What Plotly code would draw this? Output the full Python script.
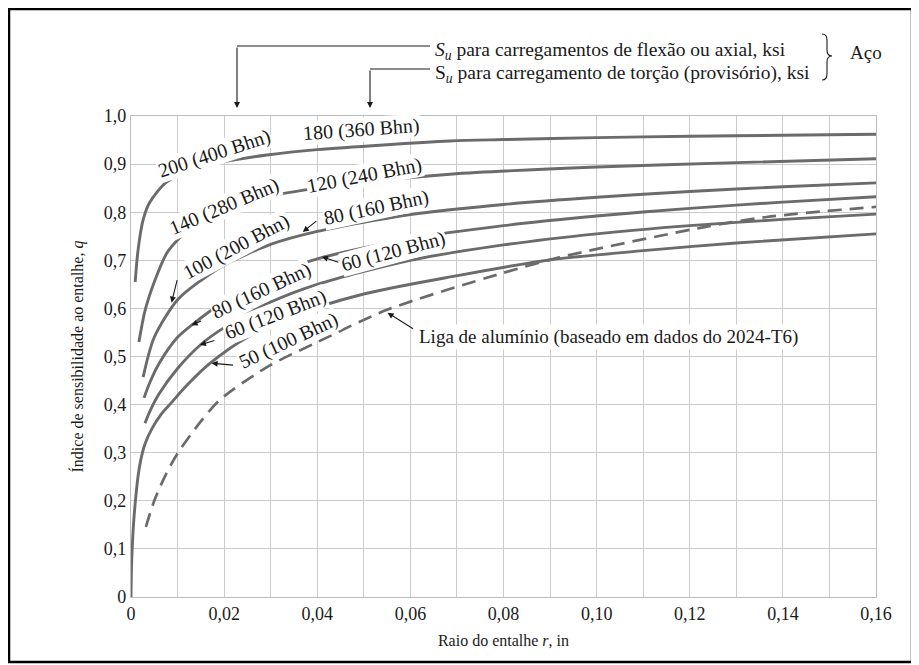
import plotly.graph_objects as go

# ---------------- data ----------------
x_200 = [0.0009, 0.0015, 0.0026, 0.004, 0.0077, 0.0148, 0.02, 0.0292, 0.04, 0.0685, 0.08, 0.10, 0.12, 0.14, 0.16]
q_200 = [0.655, 0.72, 0.784, 0.82, 0.863, 0.894, 0.905, 0.919, 0.93, 0.948, 0.951, 0.955, 0.958, 0.960, 0.962]

x_140 = [0.0017, 0.003, 0.005, 0.0077, 0.01, 0.0148, 0.02, 0.0292, 0.04, 0.0507, 0.0685, 0.10, 0.13, 0.16]
q_140 = [0.53, 0.595, 0.655, 0.715, 0.742, 0.784, 0.806, 0.832, 0.85, 0.863, 0.879, 0.894, 0.903, 0.911]

x_100 = [0.0026, 0.005, 0.01, 0.015, 0.02, 0.03, 0.04, 0.06, 0.08, 0.10, 0.12, 0.14, 0.16]
q_100 = [0.457, 0.54, 0.618, 0.658, 0.69, 0.733, 0.76, 0.795, 0.816, 0.831, 0.843, 0.853, 0.861]

x_80 = [0.0028, 0.004, 0.006, 0.01, 0.015, 0.02, 0.03, 0.04, 0.06, 0.08, 0.10, 0.12, 0.14, 0.16]
q_80 = [0.414, 0.445, 0.485, 0.54, 0.58, 0.615, 0.668, 0.703, 0.745, 0.772, 0.792, 0.808, 0.821, 0.832]

x_60 = [0.003, 0.004, 0.006, 0.01, 0.015, 0.02, 0.03, 0.04, 0.06, 0.08, 0.10, 0.12, 0.14, 0.16]
q_60 = [0.361, 0.385, 0.422, 0.475, 0.525, 0.56, 0.613, 0.65, 0.70, 0.732, 0.755, 0.772, 0.785, 0.796]

x_50 = [0, 0.0001, 0.0003, 0.0006, 0.001, 0.0015, 0.0021, 0.003, 0.0045, 0.0065, 0.0085, 0.012, 0.017, 0.025, 0.035, 0.05, 0.07, 0.09, 0.11, 0.13, 0.16]
q_50 = [0, 0.06, 0.11, 0.16, 0.205, 0.25, 0.285, 0.318, 0.35, 0.38, 0.402, 0.44, 0.486, 0.54, 0.585, 0.63, 0.668, 0.701, 0.72, 0.736, 0.755]

x_al = [0.0032, 0.005, 0.0075, 0.0101, 0.015, 0.0191, 0.0292, 0.04, 0.055, 0.0793, 0.092, 0.122, 0.1365, 0.16]
q_al = [0.146, 0.2, 0.255, 0.30, 0.365, 0.41, 0.478, 0.53, 0.597, 0.672, 0.706, 0.767, 0.79, 0.811]

x_tickvals = [round(i * 0.01, 2) for i in range(17)]
x_ticktext = ["0", "", "0,02", "", "0,04", "", "0,06", "", "0,08", "", "0,10", "", "0,12", "", "0,14", "", "0,16"]
y_tickvals = [round(i * 0.1, 1) for i in range(11)]
y_ticktext = ["0", "0,1", "0,2", "0,3", "0,4", "0,5", "0,6", "0,7", "0,8", "0,9", "1,0"]

# ---------------- layout geometry (page body has an 8px margin) ----------------
OFF = 8
W, H = 919 - OFF, 665 - OFF
L, R, T, B = 131 - OFF, 43, 116 - OFF, 68
PW, PH = W - L - R, H - T - B

def px(xp):
    """page x pixel -> paper x"""
    return (xp - OFF - L) / PW

def py(yp):
    """page y pixel -> paper y"""
    return (H - B - (yp - OFF)) / PH

FONT = "Liberation Serif"
LINE = "#6b6b6b"
TXT = "#1a1a1a"

fig = go.Figure()
for xs, qs in [(x_200, q_200), (x_140, q_140), (x_100, q_100), (x_80, q_80), (x_60, q_60), (x_50, q_50)]:
    fig.add_trace(go.Scatter(x=xs, y=qs, mode="lines",
                             line=dict(color=LINE, width=2.9, shape="spline", smoothing=0.8),
                             hoverinfo="skip", showlegend=False))
fig.add_trace(go.Scatter(x=x_al, y=q_al, mode="lines",
                         line=dict(color=LINE, width=2.7, dash="14px,8px", shape="spline", smoothing=0.8),
                         hoverinfo="skip", showlegend=False))

annotations = []

def label(text, x, y, ang, size=20):
    annotations.append(dict(x=x, y=y, xref="x", yref="y", text=text, textangle=ang,
                            showarrow=False, bgcolor="white", borderpad=0,
                            font=dict(family=FONT, size=size, color=TXT)))

def arrow(x, y, ax, ay, xref="x", yref="y"):
    annotations.append(dict(x=x, y=y, xref=xref, yref=yref, text="", showarrow=True,
                            ax=ax, ay=ay, arrowhead=2, arrowsize=1.1, arrowwidth=1.1,
                            arrowcolor=TXT, standoff=0, startstandoff=0))

label("200 (400 Bhn)", 0.0180, 0.922, -18)
label("180 (360 Bhn)", 0.0496, 0.971, -4)
label("140 (280 Bhn)", 0.0200, 0.8115, -23)
label("120 (240 Bhn)", 0.0501, 0.877, -11)
label("100 (200 Bhn)", 0.0227, 0.728, -28)
label("80 (160 Bhn)", 0.0528, 0.810, -12)
label("60 (120 Bhn)", 0.0563, 0.718, -15)
label("80 (160 Bhn)", 0.0281, 0.637, -25)
label("60 (120 Bhn)", 0.0311, 0.588, -21)
label("50 (100 Bhn)", 0.0339, 0.534, -25)

arrow(0.0369, 0.759, 15, -12)
arrow(0.0410, 0.7075, 18, 6)
arrow(0.0087, 0.612, 6, -24)
arrow(0.0130, 0.565, 11, -5)
arrow(0.0148, 0.524, 16, -5)
arrow(0.0173, 0.486, 23, 2)
arrow(0.0551, 0.591, 27, 17)

annotations.append(dict(x=0.0614, y=0.5405, xref="x", yref="y", xanchor="left",
                        text="Liga de alumínio (baseado em dados do 2024-T6)", showarrow=False,
                        bgcolor="white", font=dict(family=FONT, size=19, color=TXT)))

# top legend texts
LEAD1, LEAD2, TIP = 46, 69, 108
annotations.append(dict(x=px(433), y=py(LEAD1 - 9), xref="paper", yref="paper", xanchor="left",
                        text="<i>S</i><sub><i>u</i></sub> para carregamentos de flexão ou axial, ksi",
                        showarrow=False, font=dict(family=FONT, size=19.5, color=TXT)))
annotations.append(dict(x=px(433), y=py(LEAD2 - 9), xref="paper", yref="paper", xanchor="left",
                        text="S<sub><i>u</i></sub> para carregamento de torção (provisório), ksi",
                        showarrow=False, font=dict(family=FONT, size=19.5, color=TXT)))
annotations.append(dict(x=px(848), y=py(40), xref="paper", yref="paper", xanchor="left",
                        text="Aço", showarrow=False, font=dict(family=FONT, size=19, color=TXT)))
arrow(px(237), py(TIP), 0, -(TIP - LEAD1), xref="paper", yref="paper")
arrow(px(370), py(TIP), 0, -(TIP - LEAD2), xref="paper", yref="paper")

shapes = [
    dict(type="rect", xref="paper", yref="paper", x0=px(9), x1=px(912), y0=py(662), y1=py(9),
         line=dict(color="black", width=2.5), layer="below"),
    dict(type="line", xref="paper", yref="paper", x0=px(237), x1=px(430), y0=py(LEAD1), y1=py(LEAD1),
         line=dict(color=TXT, width=1.1)),
    dict(type="line", xref="paper", yref="paper", x0=px(370), x1=px(430), y0=py(LEAD2), y1=py(LEAD2),
         line=dict(color=TXT, width=1.1)),
]
bx0, bx1, bxm = px(822), px(832), px(827)
by = [py(34), py(40), py(50), py(56), py(62), py(74), py(80)]
brace = (f"M {bx0},{by[0]} Q {bxm},{by[0]} {bxm},{by[1]} L {bxm},{by[2]} "
         f"Q {bxm},{by[3]} {bx1},{by[3]} Q {bxm},{by[3]} {bxm},{by[4]} "
         f"L {bxm},{by[5]} Q {bxm},{by[6]} {bx0},{by[6]}")
shapes.append(dict(type="path", xref="paper", yref="paper", path=brace,
                   line=dict(color=TXT, width=1.1)))

fig.update_layout(
    width=W, height=H, margin=dict(l=L, r=R, t=T, b=B, pad=0),
    paper_bgcolor="white", plot_bgcolor="white",
    font=dict(family=FONT, color=TXT),
    annotations=annotations, shapes=shapes, showlegend=False,
    xaxis=dict(range=[0, 0.16], tickvals=x_tickvals, ticktext=x_ticktext,
               showgrid=True, gridcolor="#cbcbcb", gridwidth=1.4,
               showline=True, linecolor="#bdbdbd", linewidth=1.4, mirror=True,
               zeroline=False, ticks="", tickfont=dict(family=FONT, size=18, color=TXT),
               title=dict(text="Raio do entalhe <i>r</i>, in", font=dict(family=FONT, size=16, color=TXT),
                          standoff=12)),
    yaxis=dict(range=[0, 1.0], tickvals=y_tickvals, ticktext=y_ticktext,
               showgrid=True, gridcolor="#cbcbcb", gridwidth=1.4,
               showline=True, linecolor="#bdbdbd", linewidth=1.4, mirror=True,
               zeroline=False, ticks="", tickfont=dict(family=FONT, size=18, color=TXT),
               title=dict(text="Índice de sensibilidade ao entalhe, <i>q</i>",
                          font=dict(family=FONT, size=16, color=TXT), standoff=16)),
)

fig.write_html("out.html")
